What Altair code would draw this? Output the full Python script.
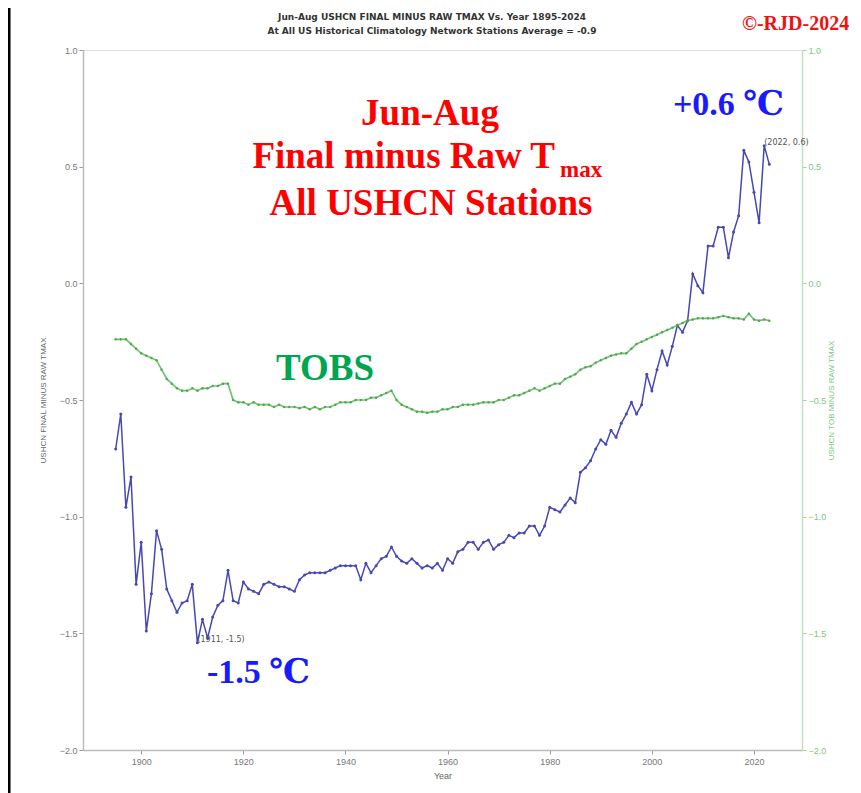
import altair as alt
import pandas as pd

years = list(range(1895, 2024))

final_minus_raw = [
    -0.71, -0.56, -0.96, -0.83, -1.29,
    -1.11, -1.49, -1.33, -1.06, -1.14, -1.31, -1.36, -1.41, -1.37, -1.36,
    -1.29, -1.54, -1.44, -1.52, -1.43, -1.38, -1.36, -1.23, -1.36, -1.37,
    -1.28, -1.31, -1.32, -1.33, -1.29, -1.28, -1.29, -1.30, -1.30, -1.31,
    -1.32, -1.27, -1.25, -1.24, -1.24, -1.24, -1.24, -1.23, -1.22, -1.21,
    -1.21, -1.21, -1.21, -1.27, -1.20, -1.24, -1.21, -1.18, -1.17, -1.13,
    -1.17, -1.19, -1.20, -1.18, -1.20, -1.22, -1.21, -1.22, -1.20, -1.23,
    -1.18, -1.20, -1.15, -1.14, -1.11, -1.11, -1.14, -1.11, -1.10, -1.14,
    -1.12, -1.11, -1.08, -1.09, -1.07, -1.07, -1.04, -1.04, -1.08, -1.04,
    -0.96, -0.97, -0.98, -0.95, -0.92, -0.94, -0.81, -0.79, -0.76, -0.71,
    -0.67, -0.69, -0.63, -0.66, -0.60, -0.56, -0.51, -0.56, -0.52, -0.39,
    -0.46, -0.37, -0.29, -0.35, -0.27, -0.18, -0.21, -0.16, 0.04, -0.01,
    -0.04, 0.16, 0.16, 0.24, 0.24, 0.11, 0.22, 0.29, 0.57, 0.52,
    0.39, 0.26, 0.59, 0.51,
]

tobs_minus_raw = [
    -0.24, -0.24, -0.24, -0.26, -0.28,
    -0.30, -0.31, -0.32, -0.33, -0.37, -0.41, -0.43, -0.45, -0.46, -0.46,
    -0.45, -0.46, -0.45, -0.45, -0.44, -0.44, -0.43, -0.43, -0.50, -0.51,
    -0.51, -0.52, -0.51, -0.52, -0.52, -0.52, -0.53, -0.52, -0.53, -0.53,
    -0.53, -0.535, -0.53, -0.54, -0.53, -0.54, -0.53, -0.53, -0.52, -0.51,
    -0.51, -0.51, -0.50, -0.50, -0.50, -0.49, -0.49, -0.48, -0.47, -0.46,
    -0.50, -0.52, -0.53, -0.54, -0.55, -0.55, -0.555, -0.55, -0.55, -0.54,
    -0.54, -0.53, -0.53, -0.52, -0.52, -0.52, -0.515, -0.51, -0.51, -0.51,
    -0.50, -0.50, -0.49, -0.48, -0.48, -0.47, -0.46, -0.45, -0.46, -0.45,
    -0.44, -0.43, -0.43, -0.41, -0.40, -0.39, -0.37, -0.36, -0.355, -0.34,
    -0.33, -0.32, -0.31, -0.305, -0.30, -0.30, -0.28, -0.26, -0.25, -0.24,
    -0.23, -0.22, -0.21, -0.20, -0.19, -0.18, -0.17, -0.16, -0.155, -0.15,
    -0.15, -0.15, -0.15, -0.145, -0.14, -0.145, -0.15, -0.15, -0.155, -0.13,
    -0.155, -0.16, -0.155, -0.16,
]

x_ticks = [1900, 1920, 1940, 1960, 1980, 2000, 2020]
y_ticks = [-2.0, -1.5, -1.0, -0.5, 0.0, 0.5, 1.0]

note_years = [1911, 2022]
note_values = [-1.535, 0.594]
note_labels = ["(1911, -1.5)", "(2022, 0.6)"]

df = pd.DataFrame({"Year": years, "final": final_minus_raw, "tobs": tobs_minus_raw})
notes = pd.DataFrame({"Year": note_years, "v": note_values, "label": note_labels})

BLUE = "#4848b4"
GREEN = "#66bb66"
xscale = alt.Scale(domain=[1888.6, 2029.4], nice=False, zero=False)
yscale = alt.Scale(domain=[-2, 1], nice=False, zero=False)

x_enc = alt.X(
    "Year:Q", scale=xscale,
    axis=alt.Axis(values=x_ticks, format="d", title="Year", grid=False,
                  labelColor="#777", labelFontSize=9, titleColor="#666",
                  titleFontSize=9, titleFontWeight="normal", domainColor="#bbbbbb",
                  domainWidth=1.5, tickColor="#999", tickSize=4, titlePadding=5,
                  labelPadding=3),
)

blue = alt.Chart(df).mark_line(
    color=BLUE, strokeWidth=1.5,
    point=alt.OverlayMarkDef(color=BLUE, size=9, filled=True),
).encode(
    x=x_enc,
    y=alt.Y("final:Q", scale=yscale,
            axis=alt.Axis(values=y_ticks, format=".1f", title="USHCN FINAL MINUS RAW TMAX",
                          grid=False, labelColor="#777", labelFontSize=9,
                          titleColor="#666", titleFontSize=8, titleFontWeight="normal",
                          domainColor="#bbbbbb", domainWidth=1.5, tickColor="#999",
                          tickSize=4, titlePadding=12)),
)

green = alt.Chart(df).mark_line(
    color=GREEN, strokeWidth=1.7, opacity=0.9,
    point=alt.OverlayMarkDef(color="#4fa84f", size=6, filled=True),
).encode(
    x=alt.X("Year:Q", scale=xscale),
    y=alt.Y("tobs:Q", scale=yscale,
            axis=alt.Axis(orient="right", values=y_ticks, format=".1f",
                          title="USHCN TOB MINUS RAW TMAX", titleAngle=270,
                          grid=False, labelColor="#7cc87c", labelFontSize=9,
                          titleColor="#7cc87c", titleFontSize=8, titleFontWeight="normal",
                          domainColor="#bfe3bf", domainWidth=1.5, tickColor="#9fd49f",
                          tickSize=4, titlePadding=10)),
)

note_layer = alt.Chart(notes).mark_text(
    align="left", baseline="alphabetic", fontSize=8, color="#555", font="DejaVu Sans",
).encode(
    x=alt.X("Year:Q", scale=xscale),
    y=alt.Y("v:Q", scale=yscale, axis=None),
    text="label:N",
)


def label(txt, x, y, size, color, align="center", font="Liberation Serif", weight="bold"):
    return alt.Chart(pd.DataFrame({"t": [txt]})).mark_text(
        align=align, baseline="alphabetic", fontSize=size, fontWeight=weight,
        font=font, color=color,
    ).encode(text="t:N", x=alt.value(x), y=alt.value(y))


SERIF = "Liberation Serif, DejaVu Serif, serif"
texts = [
    label("Jun-Aug USHCN FINAL MINUS RAW TMAX Vs. Year 1895-2024", 349, -30, 9, "#333",
          font="DejaVu Sans"),
    label("At All US Historical Climatology Network Stations Average = -0.9", 349, -16, 9,
          "#333", font="DejaVu Sans"),
    label("©-RJD-2024", 659, -20, 20, "#ee1111", align="left", font=SERIF),
    label("Jun-Aug", 347, 75, 37, "#ff0000", font=SERIF),
    label("Final minus Raw T", 472, 118, 37, "#ff0000", align="right", font=SERIF),
    label("max", 477, 127, 23, "#ff0000", align="left", font=SERIF),
    label("All USHCN Stations", 348, 165, 37, "#ff0000", font=SERIF),
    label("TOBS", 193, 330, 37, "#00a550", align="left", font=SERIF),
    label("+0.6 ℃", 590, 65, 34, "#1a1aff", align="left", font=SERIF),
    label("-1.5 ℃", 124, 633, 34, "#1a1aff", align="left", font=SERIF),
]

frame_line = alt.Chart(pd.DataFrame({"a": [0]})).mark_rule(
    color="#000000", strokeWidth=3
).encode(x=alt.value(-74), y=alt.value(-50), y2=alt.value(743))

chart = alt.layer(blue, green, note_layer, frame_line, *texts).resolve_scale(
    y="independent"
).properties(
    width=719, height=700,
    autosize=alt.AutoSizeParams(type="none"),
    padding={"left": 75, "top": 42, "right": 51, "bottom": 43},
).configure_view(stroke="#bbbbbb", strokeWidth=1.5).configure(background="white")

chart.save("out.html", embed_options={"renderer": "svg", "actions": False})
